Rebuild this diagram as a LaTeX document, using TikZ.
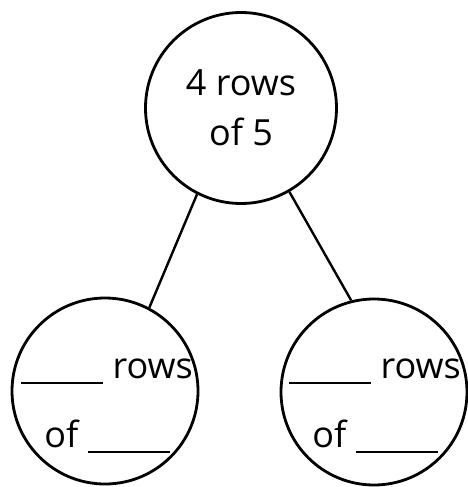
\documentclass[tikz,border=0pt]{standalone}
\usepackage{fontspec}
\setmainfont{Open Sans}
\usepackage{tikz}
\usetikzlibrary{positioning}

\newcommand{\blankline}{\rule[-5.5pt]{82pt}{1.8pt}}

\begin{document}
\begin{tikzpicture}[x=1pt, y=-1pt, font=\fontsize{36}{50}\selectfont]
\useasboundingbox (0,0) rectangle (468,487);
% Whole array
\node[draw, circle, line width=2.8pt, minimum size=191pt, align=center, inner sep=0pt] (whole) at (241,108) {4 rows\\of 5};

% Parts
\node[draw, circle, line width=2.8pt, minimum size=186pt] (partA) at (105,391) {};
\node[draw, circle, line width=2.8pt, minimum size=186pt] (partB) at (374,392) {};

% Part labels
\node[anchor=base, inner sep=0pt] (rowsA) at (107,378) {\blankline{} rows};
\node[anchor=base, inner sep=0pt] (ofA) at (107,447) {of \blankline};
\node[anchor=base, inner sep=0pt] (rowsB) at (375,378) {\blankline{} rows};
\node[anchor=base, inner sep=0pt] (ofB) at (375,447) {of \blankline};

% Links
\draw[line width=2.4pt] (whole.243) -- (partA.62);
\draw[line width=2.4pt] (whole.300) -- (partB.104);
\end{tikzpicture}
\end{document}
